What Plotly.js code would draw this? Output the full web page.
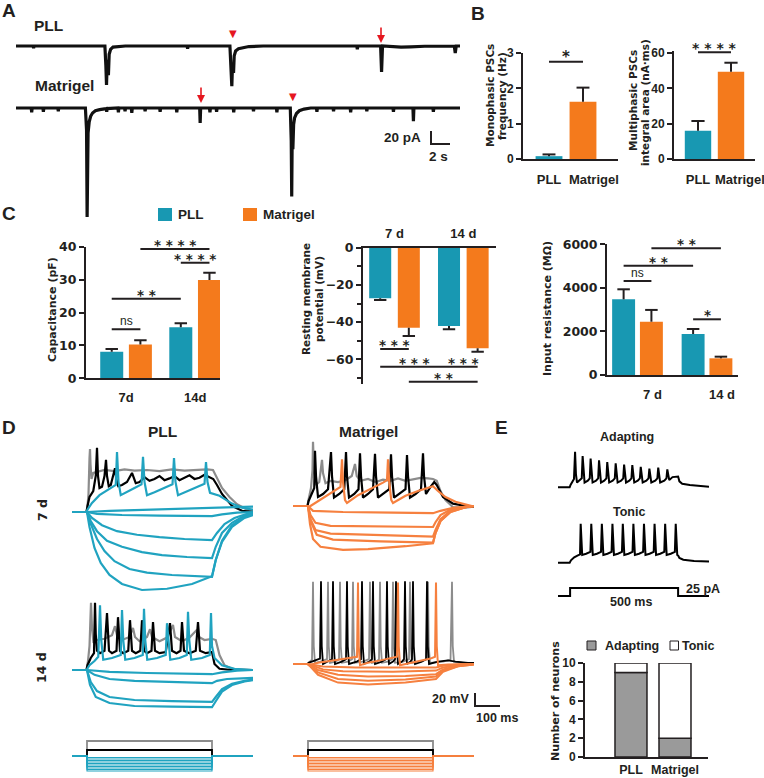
<!DOCTYPE html>
<html><head><meta charset="utf-8">
<script src="https://cdn.plot.ly/plotly-3.0.1.min.js"></script>
<style>html,body{margin:0;padding:0;background:#fff}#chart{width:764px;height:778px}</style>
</head><body><div id="chart"></div>
<script>
// ================= DATA =================
// Panel A: spontaneous PSC recordings (time s, current pA)
const aPllT = [0,1.8,1.85,1.9,5,8,9.35,9.45,9.52,9.6,9.72,9.8,9.95,10.2,10.6,11.5,15,18,18.05,18.1,22.5,22.62,22.7,22.78,22.88,22.95,23.1,23.4,23.8,24.5,26,30,34,35.85,35.9,35.95,38.35,38.45,38.55,39.5,40.5,41.5,43,46.1,46.2,46.3,46.7];
const aPllI = [0,0,-4,0,0,0,0,-35,-71,-25,-53,-15,-6,-2,-1,0,0,0,-5,0,0,-40,-73,-30,-49,-18,-9,-5,-3,-1,0,0,0,0,-6,0,0,-47,0,-1,-2,-1.5,-0.5,0,-13,0,0];
const aMatT = [0,1.6,1.65,1.7,2.83,2.88,2.93,4.4,4.45,4.5,7.3,7.42,7.48,7.52,7.58,7.7,7.85,8.05,8.35,8.8,9.3,9.49,9.54,9.59,10.72,10.77,10.82,11.42,11.47,11.52,12.13,12.18,12.23,13.53,13.58,13.63,15.11,15.16,15.21,16.86,16.91,16.96,19.32,19.37,19.42,20.35,20.4,20.45,21.05,21.1,21.15,22.85,22.9,22.95,24.93,24.98,25.03,27.39,27.44,27.49,28.85,28.95,29.0,29.05,29.12,29.2,29.3,29.5,29.8,30.3,31.0,31.6,31.65,31.7,33.35,33.4,33.45,35.15,35.2,35.25,36.85,36.9,36.95,39.65,39.7,39.75,41.75,41.8,41.85,43.85,43.9,43.95,46.7];
const aMatI = [0,0,-8,0,0,-7,0,0,-6,0,0,-40,-198,-90,-45,-25,-15,-9,-5,-3,-1,-1,-7,-1,0,-8,0,0,-6,0,0,-9,0,0,-6,0,0,-7,0,0,-8,0,0,-27,0,0,-8,0,0,-7,0,0,-8,0,0,-6,0,0,-8,0,0,-60,-161,-50,-75,-30,-18,-10,-5,-2,0,0,-7,0,0,-6,0,0,-8,0,0,-6,0,0,-7,0,0,-24,0,0,-7,0,0];

// Panel B
const bCats = ['PLL','Matrigel'];
const monoFreq = [0.08, 1.62];
const monoFreqErr = [0.05, 0.40];
const multiArea = [16.0, 49.4];
const multiAreaErr = [5.5, 5.1];
const monoSig = [[0,1,2.75,'*']];
const multiSig = [[0,1,60.4,'****']];

// Panel C
const cDays = ['7d','14d'];
const cDaysSp = ['7 d','14 d'];
const capPLL = [8.1, 15.5], capPLLErr = [0.8, 1.2];
const capMat = [10.3, 29.9], capMatErr = [1.3, 2.2];
const rmpPLL = [-27.2, -42.1], rmpPLLErr = [0.9, 1.8];
const rmpMat = [-43.0, -54.1], rmpMatErr = [4.5, 1.8];
const rinPLL = [3474, 1882], rinPLLErr = [460, 230];
const rinMat = [2447, 766], rinMatErr = [540, 75];
// [groupA, seriesA, groupB, seriesB, level, label]
const capSig = [[0,0,0,1,14.9,'ns'],[0,0,1,0,24.2,'**'],[0,1,1,1,39.3,'****'],[1,0,1,1,35.1,'****']];
const rmpSig = [[0,0,0,1,-54.5,'***'],[0,0,1,0,-64,'***'],[1,0,1,1,-64,'***'],[0,1,1,1,-72,'**']];
const rinSig = [[0,0,0,1,4315,'ns'],[0,0,1,0,5020,'**'],[0,1,1,1,5815,'**'],[1,0,1,1,2557,'*']];

// Panel D: membrane potential traces [time ms, mV]
const pll7Gray = [[0,-70],[58,-70],[62,-60],[66,-40],[70,20],[72,35],[74,10],[78,-15],[85,-5],[100,-3],[130,0],[170,-2],[210,1],[250,-1],[300,0],[350,-2],[400,1],[450,-1],[500,0],[540,1],[564,0],[575,-10],[600,-30],[630,-45],[660,-57],[700,-66],[724,-69]];
const pll7Black = [[0,-70],[58,-70],[62,-60],[70,-45],[85,-35],[95,-10],[100,37],[104,-10],[110,-30],[120,-28],[130,-10],[136,17],[140,-10],[147,-27],[155,-25],[165,-10],[172,3],[177,-15],[185,-27],[200,-25],[220,-20],[240,-5],[245,-12],[255,-22],[270,-20],[290,-12],[310,-18],[330,-15],[350,-10],[370,-17],[390,-14],[410,-10],[430,-17],[450,-13],[470,-9],[490,-15],[510,-13],[530,-8],[550,-12],[565,-15],[580,-25],[600,-40],[640,-60],[680,-68],[724,-70]];
const pll7Spk = [[0,-70],[58,-70],[62,-66],[80,-55],[110,-42],[150,-32],[175,-25],[180,30],[186,-20],[195,-42],[215,-38],[250,-30],[278,-24],[284,22],[290,-20],[300,-42],[330,-37],[370,-30],[402,-24],[408,20],[414,-20],[424,-42],[460,-36],[500,-28],[530,-23],[536,13],[542,-20],[552,-38],[565,-40],[590,-43],[640,-56],[680,-63],[724,-66]];
const pll7H0 = [[0,-70],[60,-70],[150,-68],[300,-66],[560,-63],[600,-62],[680,-61],[724,-61]];
const pll7H1 = [[0,-70],[60,-70],[100,-73],[200,-75],[350,-76],[560,-77],[600,-74],[660,-71],[724,-70]];
const pll7H2 = [[0,-70],[60,-70],[80,-80],[120,-92],[180,-102],[260,-108],[350,-112],[450,-115],[560,-117],[580,-105],[610,-90],[650,-80],[700,-73],[724,-72]];
const pll7H3 = [[0,-70],[60,-70],[75,-85],[100,-102],[140,-118],[200,-128],[280,-137],[360,-142],[460,-145],[560,-147],[575,-128],[600,-105],[640,-88],[690,-76],[724,-73]];
const pll7H4 = [[0,-70],[60,-70],[75,-90],[100,-115],[130,-135],[170,-152],[230,-165],[300,-171],[400,-175],[560,-178],[575,-150],[600,-120],[640,-95],[690,-80],[724,-75]];
const pll7H5 = [[0,-70],[60,-70],[70,-95],[90,-130],[115,-155],[150,-175],[200,-190],[280,-200],[380,-198],[480,-190],[560,-177],[575,-150],[600,-118],[640,-92],[690,-78],[724,-74]];

const mat7Gray = [[0,-70],[58,-70],[62,-60],[72,-40],[78,-10],[80,37],[84,-10],[92,-35],[105,-30],[112,-10],[116,7],[120,-15],[130,-32],[150,-28],[180,-30],[210,-27],[235,-20],[248,0],[255,-20],[270,-28],[300,-25],[330,-30],[360,-26],[390,-28],[420,-24],[450,-28],[480,-26],[510,-23],[540,-24],[560,-25],[575,-28],[590,-45],[610,-60],[640,-72],[680,-73],[724,-71]];
const mat7Black = [[0,-70],[58,-70],[62,-62],[75,-50],[85,-40],[88,22],[92,-20],[100,-55],[120,-50],[140,-42],[152,20],[156,-20],[164,-56],[185,-50],[205,-42],[212,20],[216,-20],[224,-56],[245,-50],[262,-42],[268,18],[272,-20],[280,-56],[300,-50],[320,-42],[328,17],[332,-20],[340,-56],[360,-50],[385,-42],[392,16],[396,-20],[404,-56],[425,-50],[450,-42],[456,15],[460,-20],[468,-56],[490,-50],[512,-42],[520,18],[524,-20],[532,-50],[550,-38],[565,-30],[575,-35],[600,-55],[640,-66],[690,-70],[724,-71]];
const mat7Spk = [[0,-70],[58,-70],[62,-72],[100,-62],[136,-52],[170,-43],[190,-38],[196,8],[200,-30],[208,-60],[216,-65],[260,-52],[320,-40],[360,-31],[376,-27],[380,8],[385,-30],[393,-60],[400,-65],[450,-53],[500,-45],[540,-40],[560,-37],[580,-45],[610,-55],[650,-63],[690,-68],[724,-71]];
const mat7H1 = [[0,-70],[60,-70],[80,-78],[200,-80],[400,-81],[560,-82],[590,-78],[640,-73],[724,-70]];
const mat7H2 = [[0,-70],[60,-70],[70,-85],[90,-98],[150,-103],[300,-104],[560,-105],[570,-97],[590,-85],[630,-76],[690,-71],[724,-70]];
const mat7H3 = [[0,-70],[60,-70],[70,-92],[90,-110],[150,-116],[350,-118],[560,-121],[570,-110],[590,-92],[630,-78],[690,-72],[724,-70]];
const mat7H4 = [[0,-70],[60,-70],[70,-95],[95,-118],[160,-126],[350,-129],[560,-131],[570,-115],[590,-95],[630,-80],[690,-72],[724,-70]];
const mat7H5 = [[0,-70],[60,-70],[68,-100],[80,-125],[110,-138],[200,-143],[300,-142],[450,-137],[560,-132],[570,-115],[590,-95],[630,-80],[690,-72],[724,-70]];

const pll14Gray = [[0,-70],[58,-70],[64,-55],[70,-30],[76,42],[80,0],[86,-25],[100,-20],[130,-18],[160,-12],[172,3],[180,-12],[200,-20],[230,-15],[244,0],[252,-15],[270,-22],[300,-15],[312,-2],[320,-15],[350,-22],[380,-16],[404,5],[412,-15],[440,-22],[470,-16],[500,-3],[508,-15],[530,-20],[560,-18],[575,-20],[590,-45],[610,-62],[640,-68],[724,-70]];
const pll14Black = [[0,-70],[58,-70],[62,-62],[75,-50],[88,-42],[92,42],[95,-10],[100,-38],[112,-42],[130,-38],[140,25],[143,-10],[148,-38],[160,-42],[178,-38],[184,18],[187,-10],[192,-38],[205,-42],[225,-38],[232,13],[235,-10],[240,-38],[255,-42],[273,-38],[280,13],[283,-10],[288,-38],[300,-42],[318,-38],[324,10],[327,-10],[332,-38],[350,-42],[375,-40],[392,8],[395,-10],[400,-38],[418,-42],[434,-38],[440,10],[443,-10],[448,-38],[470,-42],[495,-38],[504,10],[507,-10],[512,-38],[535,-42],[560,-40],[570,-60],[590,-68],[640,-70],[724,-70]];
const pll14Spk = [[0,-70],[58,-70],[70,-62],[90,-55],[105,-48],[112,38],[117,-20],[125,-53],[160,-50],[195,-45],[200,30],[205,-20],[213,-53],[250,-50],[283,-45],[288,32],[293,-20],[301,-53],[340,-50],[375,-45],[380,8],[385,-20],[393,-53],[430,-50],[459,-45],[464,27],[469,-20],[477,-53],[520,-50],[551,-45],[556,25],[560,-30],[570,-50],[600,-62],[650,-68],[724,-70]];
const pll14H1 = [[0,-70],[60,-70],[150,-73],[300,-75],[560,-77],[600,-74],[660,-71],[724,-70]];
const pll14H2 = [[0,-70],[60,-70],[90,-78],[150,-85],[250,-88],[400,-90],[560,-92],[580,-88],[620,-85],[680,-84],[724,-83]];
const pll14H3 = [[0,-70],[60,-70],[75,-90],[100,-105],[150,-115],[250,-120],[400,-122],[560,-123],[575,-115],[600,-102],[640,-93],[690,-88],[724,-86]];
const pll14H4 = [[0,-70],[60,-70],[72,-95],[95,-115],[150,-125],[250,-130],[400,-131],[560,-132],[575,-122],[600,-106],[640,-95],[690,-89],[724,-87]];

const mat14Gray = [[0,-70],[58,-70],[62,-68],[76,-63],[80,67],[83,-40],[88,-68],[110,-66],[136,-62],[140,67],[143,-40],[148,-68],[170,-66],[184,-62],[188,67],[191,-40],[196,-68],[220,-66],[236,-62],[240,67],[243,-40],[248,-68],[280,-66],[304,-62],[308,67],[311,-40],[316,-68],[335,-66],[344,-62],[348,67],[351,-40],[356,-68],[380,-66],[396,-62],[400,67],[403,-40],[408,-68],[440,-66],[464,-62],[468,67],[471,-40],[476,-68],[510,-66],[536,-62],[540,67],[543,-40],[548,-68],[570,-67],[600,-66],[630,-63],[636,67],[639,-40],[644,-66],[680,-68],[724,-69]];
const mat14Black = [[0,-70],[58,-70],[62,-68],[90,-64],[108,-61],[112,68],[115,-40],[120,-70],[140,-66],[156,-62],[160,68],[163,-40],[168,-70],[195,-66],[212,-62],[216,68],[219,-40],[224,-70],[255,-66],[272,-62],[276,68],[279,-40],[284,-70],[305,-66],[316,-62],[320,68],[323,-40],[328,-70],[355,-66],[372,-62],[376,68],[379,-40],[384,-70],[400,-66],[408,-62],[412,68],[415,-40],[420,-70],[436,-66],[444,-62],[448,68],[451,-40],[456,-70],[470,-66],[476,-62],[480,68],[483,-40],[488,-70],[515,-66],[532,-62],[536,68],[539,-40],[544,-70],[565,-68],[580,-66],[620,-64],[650,-66],[700,-68],[724,-68]];
const mat14Spk = [[0,-70],[58,-70],[62,-72],[100,-68],[160,-64],[220,-61],[256,-58],[260,66],[263,-40],[268,-72],[300,-68],[350,-64],[390,-61],[416,-58],[420,66],[423,-40],[428,-72],[470,-68],[520,-64],[550,-61],[568,-58],[572,66],[575,-40],[580,-72],[620,-71],[680,-70],[724,-70]];
const mat14H1 = [[0,-70],[60,-70],[120,-74],[250,-76],[572,-76],[600,-73],[660,-71],[724,-70]];
const mat14H2 = [[0,-70],[60,-70],[120,-79],[200,-82],[400,-83],[572,-81],[600,-76],[660,-72],[724,-70]];
const mat14H3 = [[0,-70],[60,-70],[100,-80],[180,-88],[300,-91],[450,-90],[572,-87],[600,-79],[660,-73],[724,-70]];
const mat14H4 = [[0,-70],[60,-70],[100,-84],[180,-95],[300,-98],[450,-96],[572,-91],[600,-81],[660,-74],[724,-71]];
const mat14H5 = [[0,-70],[60,-70],[100,-88],[180,-101],[300,-104],[450,-101],[572,-95],[600,-83],[660,-74],[724,-71]];

// current-step protocol (pA) and its time course (ms)
const protoCurrents = [50, 20, -5, -10, -15, -20, -25, -30, -35, -40, -45, -50];
const protoT = [0, 60, 60, 560, 560, 724];
const protoOn = [0, 0, 1, 1, 0, 0];

// Panel E
const adaptTrace = [[0,-70],[54,-70],[58,-66],[66,-60],[74,-56],[79,-11],[83,-48],[88,-62],[100,-59],[110,-55],[114,-18],[118,-48],[123,-62],[138,-59],[147,-55],[151,-22],[155,-48],[160,-62],[176,-59],[186,-55],[190,-25],[194,-48],[199,-62],[214,-59],[224,-55],[228,-28],[232,-48],[237,-62],[253,-59],[263,-55],[267,-30],[271,-48],[276,-62],[292,-59],[302,-55],[306,-32],[310,-48],[315,-62],[330,-59],[340,-55],[344,-33],[348,-48],[353,-62],[369,-59],[379,-55],[383,-36],[387,-48],[392,-62],[409,-59],[419,-55],[423,-39],[427,-48],[432,-62],[450,-59],[460,-55],[464,-37],[468,-48],[473,-62],[492,-59],[502,-55],[506,-40],[510,-48],[515,-58],[530,-53],[550,-52],[556,-52],[562,-60],[575,-64],[610,-66],[660,-68],[699,-69]];
const tonicTrace = [[0,-70],[54,-70],[60,-66],[75,-61],[90,-58],[102,-56],[105,-5],[108,-45],[112,-57],[130,-55],[150,-52],[154,-5],[157,-45],[161,-57],[180,-55],[199,-52],[203,-5],[206,-45],[210,-57],[229,-55],[248,-52],[252,-5],[255,-45],[259,-57],[277,-55],[296,-52],[300,-5],[303,-45],[307,-57],[326,-55],[345,-52],[349,-5],[352,-45],[356,-57],[375,-55],[394,-52],[398,-5],[401,-45],[405,-57],[424,-55],[443,-52],[447,-5],[450,-45],[454,-57],[473,-55],[492,-52],[496,-5],[499,-45],[503,-57],[522,-55],[541,-52],[545,-5],[548,-45],[552,-57],[556,-58],[562,-62],[580,-65],[630,-67],[699,-68]];
const eStepT = [0, 56, 56, 556, 556, 699];
const eStepI = [0, 0, 25, 25, 0, 0];
const eCats = ['PLL','Matrigel'];
const eAdapting = [9, 2];
const eTonic = [1, 8];

// ================= STYLE / LAYOUT =================
const W = 764, H = 778;
const ink = '#231f20', teal = '#1898b2', orange = '#f47a1c', tealT = '#20a3c0', orangeT = '#f6803f', grayT = '#8c8c8c', red = '#e5171f';
const FL = 'Liberation Sans, Arial, sans-serif', FD = 'DejaVu Sans, sans-serif';
const fnt = (size, fam, weight) => ({family: fam || FL, size: size, weight: weight || 'bold', color: ink});
const xd = (a, b) => [a / W, b / W];
const yd = (top, bot) => [1 - bot / H, 1 - top / H];

const layout = {width: W, height: H, margin: {l: 0, r: 0, t: 0, b: 0}, paper_bgcolor: '#fff', plot_bgcolor: 'rgba(0,0,0,0)',
  showlegend: false, barmode: 'overlay', font: {family: FL, size: 12, color: ink}, shapes: [], annotations: []};
const traces = [];
function setAx(n, xdom, ydom, xo, yo) {
  const s = n === 1 ? '' : String(n);
  layout['xaxis' + s] = Object.assign({domain: xdom, anchor: 'y' + s, fixedrange: true}, xo);
  layout['yaxis' + s] = Object.assign({domain: ydom, anchor: 'x' + s, fixedrange: true}, yo);
}
const hid = r => ({range: r, visible: false, showgrid: false, zeroline: false});
const tickNum = fnt(12.5, FD);
const tickTxt = fnt(13);
function barX(r, cats, extra) {
  return Object.assign({range: r, tickmode: 'array', tickvals: cats.map((_, i) => i), ticktext: cats, showline: true, linewidth: 2, linecolor: ink,
    ticks: '', tickangle: 0, showgrid: false, zeroline: false, tickfont: tickTxt, ticklabelstandoff: 5, ticklabeloverflow: 'allow'}, extra || {});
}
function barY(r, dtick, extra) {
  return Object.assign({range: r, dtick: dtick, tick0: 0, showline: true, linewidth: 2, linecolor: ink, ticks: 'outside', ticklen: 5, tickwidth: 2,
    tickcolor: ink, tickangle: 0, showgrid: false, zeroline: false, tickfont: tickNum}, extra || {});
}
const ax = n => (n === 1 ? '' : String(n));
function line(pts, n, color, w) {
  traces.push({type: 'scatter', mode: 'lines', x: pts.map(p => p[0]), y: pts.map(p => p[1]), xaxis: 'x' + ax(n), yaxis: 'y' + ax(n),
    line: {color: color, width: w}, hoverinfo: 'skip'});
}
function bars(vals, n, color, off, wid, extra) {
  traces.push(Object.assign({type: 'bar', x: vals.map((_, i) => i), y: vals, xaxis: 'x' + ax(n), yaxis: 'y' + ax(n),
    marker: {color: color, line: {width: 0}}, offset: off, width: wid, hoverinfo: 'skip', cliponaxis: false}, extra || {}));
}
function errs(vals, ev, n, off, wid, cap) {
  const xs = [], ys = [];
  vals.forEach((v, i) => {
    const c = i + off + wid / 2, e = v + (v < 0 ? -1 : 1) * ev[i];
    xs.push(c, c, null, c - cap, c + cap, null); ys.push(v, e, null, e, e, null);
  });
  traces.push({type: 'scatter', mode: 'lines', x: xs, y: ys, xaxis: 'x' + ax(n), yaxis: 'y' + ax(n), line: {color: ink, width: 2}, hoverinfo: 'skip', cliponaxis: false});
}
const starTxt = s => s.split('').join(' ');
function sig(list, n, offs, wid, starSize) {
  list.forEach(s => {
    const x0 = s[0] + offs[s[1]] + wid / 2, x1 = s[2] + offs[s[3]] + wid / 2;
    layout.shapes.push({type: 'line', xref: 'x' + ax(n), yref: 'y' + ax(n), x0: x0, x1: x1, y0: s[4], y1: s[4], line: {color: ink, width: 2}});
    const isNs = s[5] === 'ns';
    layout.annotations.push({xref: 'x' + ax(n), yref: 'y' + ax(n), x: (x0 + x1) / 2, y: s[4], showarrow: false, xanchor: 'center',
      yanchor: 'bottom', yshift: isNs ? -1 : -6, text: isNs ? 'ns' : starTxt(s[5]),
      font: isNs ? fnt(12, FL, 'normal') : fnt(starSize, FD)});
  });
}
function ann(text, x, y, font, o) {
  layout.annotations.push(Object.assign({xref: 'paper', yref: 'paper', x: x / W, y: 1 - y / H, text: text, showarrow: false,
    xanchor: 'center', yanchor: 'middle', font: font}, o || {}));
}
function pline(x0, y0, x1, y1, w, c) {
  layout.shapes.push({type: 'line', xref: 'paper', yref: 'paper', x0: x0 / W, y0: 1 - y0 / H, x1: x1 / W, y1: 1 - y1 / H, line: {color: c || ink, width: w || 2}});
}
function prect(x0, y0, x1, y1, fill, lw) {
  layout.shapes.push({type: 'rect', xref: 'paper', yref: 'paper', x0: x0 / W, y0: 1 - y0 / H, x1: x1 / W, y1: 1 - y1 / H,
    fillcolor: fill, line: {color: ink, width: lw || 0}});
}

// ---------- Panel A ----------
setAx(1, xd(16, 460), yd(18, 95), hid([0, 46.7]), hid([-89.1, 50.9]));
setAx(2, xd(16, 460), yd(88, 222), hid([0, 46.7]), hid([-207.3, 36.4]));
traces.push({type: 'scatter', mode: 'lines', x: aPllT, y: aPllI, xaxis: 'x', yaxis: 'y', line: {color: '#111', width: 3.2}, hoverinfo: 'skip'});
traces.push({type: 'scatter', mode: 'lines', x: aMatT, y: aMatI, xaxis: 'x2', yaxis: 'y2', line: {color: '#111', width: 3.2}, hoverinfo: 'skip'});
ann('A', 9, 11, fnt(19));
ann('PLL', 48, 25, fnt(15.5));
ann('Matrigel', 64, 86, fnt(15.5));
ann('20 pA', 423, 137, fnt(13.5), {xanchor: 'right'});
ann('2 s', 438, 157, fnt(13.5));
pline(431, 131, 431, 144.8); pline(430, 144, 450, 144);
ann('▼', 233, 33, {family: FD, size: 10, color: red});
ann('▼', 293, 97, {family: FD, size: 10, color: red});
layout.annotations.push({xref: 'paper', yref: 'paper', x: 381 / W, y: 1 - 43 / H, ax: 0, ay: -17, text: '', showarrow: true, arrowhead: 2, arrowsize: 1, arrowwidth: 1.6, arrowcolor: red});
layout.annotations.push({xref: 'paper', yref: 'paper', x: 201 / W, y: 1 - 103 / H, ax: 0, ay: -17, text: '', showarrow: true, arrowhead: 2, arrowsize: 1, arrowwidth: 1.6, arrowcolor: red});

// ---------- Panel B ----------
const smallTick = fnt(12);
const bW = 0.79;
setAx(3, xd(523, 618), yd(53, 159), barX([-0.765, 2.03], bCats, {tickvals: [0, 1.32], ticklabelstandoff: 7}), barY([0, 3], 1, {tickfont: smallTick}));
bars(monoFreq, 3, [teal, orange], -bW / 2, bW);
errs(monoFreq, monoFreqErr, 3, -bW / 2, bW, 0.19);
sig(monoSig.map(s => [s[0], 0, s[1], 0, s[2], s[3]]), 3, [-bW / 2], bW, 15);
const bW2 = 0.8;
setAx(4, xd(674, 755), yd(50.9, 159), barX([-0.727, 1.727], bCats, {tickvals: [0, 1.27], ticklabelstandoff: 7}), barY([0, 61.2], 20, {tickfont: smallTick}));
bars(multiArea, 4, [teal, orange], -bW2 / 2, bW2);
errs(multiArea, multiAreaErr, 4, -bW2 / 2, bW2, 0.2);
sig(multiSig.map(s => [s[0], 0, s[1], 0, s[2], s[3]]), 4, [-bW2 / 2], bW2, 14);
ann('B', 478, 14, fnt(19));
ann('Monophasic PSCs', 490, 96, fnt(10.5, FD), {textangle: -90});
ann('frequency (Hz)', 502, 96, fnt(10.5, FD), {textangle: -90});
ann('Multiphasic PSCs', 633, 101, fnt(10.5, FD), {textangle: -90});
ann('integral area (nA·ms)', 645, 103, fnt(10.5, FD), {textangle: -90});

// ---------- Panel C ----------
const cw1 = 0.333, co1 = [-0.374, 0.041];
setAx(5, xd(86, 220), yd(246.7, 378.3), barX([-0.58, 1.36], cDays, {ticklabelstandoff: 6}), barY([0, 40], 10));
bars(capPLL, 5, teal, co1[0], cw1); bars(capMat, 5, orange, co1[1], cw1);
errs(capPLL, capPLLErr, 5, co1[0], cw1, 0.09); errs(capMat, capMatErr, 5, co1[1], cw1, 0.09);
sig(capSig, 5, co1, cw1, 13.5);
ann('Capacitance (pF)', 52, 310, fnt(11, FD), {textangle: -90});

const cw2 = 0.32, co2 = [-0.368, 0.048];
setAx(6, xd(363, 496), yd(247.7, 383.5), barX([-0.458, 1.475], cDaysSp, {side: 'top', ticklabelstandoff: 3}),
  barY([-73, 0], 20, {minor: {dtick: 10, ticks: 'outside', ticklen: 4, tickwidth: 2, tickcolor: ink}}));
bars(rmpPLL, 6, teal, co2[0], cw2); bars(rmpMat, 6, orange, co2[1], cw2);
errs(rmpPLL, rmpPLLErr, 6, co2[0], cw2, 0.09); errs(rmpMat, rmpMatErr, 6, co2[1], cw2, 0.09);
sig(rmpSig, 6, co2, cw2, 13.5);
ann('Resting membrane', 306, 299, fnt(10.5, FD), {textangle: -90});
ann('potential (mV)', 319, 299, fnt(10.5, FD), {textangle: -90});

const cw3 = 0.33, co3 = [-0.365, 0.035];
setAx(7, xd(607, 738), yd(244.3, 375), barX([-0.439, 1.446], cDaysSp, {ticklabelstandoff: 6, ticklabelshift: 15}), barY([0, 6000], 2000));
bars(rinPLL, 7, teal, co3[0], cw3); bars(rinMat, 7, orange, co3[1], cw3);
errs(rinPLL, rinPLLErr, 7, co3[0], cw3, 0.09); errs(rinMat, rinMatErr, 7, co3[1], cw3, 0.09);
sig(rinSig, 7, co3, cw3, 13.5);
ann('Input resistance (MΩ)', 547, 309, fnt(11, FD), {textangle: -90});

ann('C', 9, 213, fnt(19));
prect(158, 208, 172, 221, teal, 0);
ann('PLL', 176, 214.5, fnt(13.5), {xanchor: 'left'});
prect(243, 208, 257, 221, orange, 0);
ann('Matrigel', 261, 214.5, fnt(13.5), {xanchor: 'left'});

// ---------- Panel D ----------
setAx(8, xd(72, 253), yd(438, 600), hid([0, 724]), hid([-216.7, 53.3]));
setAx(9, xd(293, 474), yd(434, 562), hid([0, 724]), hid([-163.3, 50]));
setAx(10, xd(72, 253), yd(596, 714), hid([0, 724]), hid([-143.3, 53.3]));
setAx(11, xd(293, 474), yd(574, 692), hid([0, 724]), hid([-116.7, 80]));
setAx(12, xd(72, 253), yd(734, 778), hid([0, 724]), hid([-73.3, 73.3]));
setAx(13, xd(293, 474), yd(734, 778), hid([0, 724]), hid([-73.3, 73.3]));
const dw = 2.2;
line(pll7Gray, 8, grayT, dw); line(pll7Black, 8, '#000', dw);
[pll7H0, pll7H1, pll7H2, pll7H3, pll7H4, pll7H5, pll7Spk].forEach(t => line(t, 8, tealT, dw));
line(mat7Gray, 9, grayT, dw); line(mat7Black, 9, '#000', dw);
[mat7H1, mat7H2, mat7H3, mat7H4, mat7H5, mat7Spk].forEach(t => line(t, 9, orangeT, dw));
line(pll14Gray, 10, grayT, dw); line(pll14Black, 10, '#000', dw);
[pll14H1, pll14H2, pll14H3, pll14H4, pll14Spk].forEach(t => line(t, 10, tealT, dw));
line(mat14Gray, 11, grayT, 1.8); line(mat14Black, 11, '#000', 1.8);
[mat14H1, mat14H2, mat14H3, mat14H4, mat14H5, mat14Spk].forEach(t => line(t, 11, orangeT, 2));
[[12, tealT], [13, orangeT]].forEach(pc => {
  protoCurrents.forEach(I => {
    const col = I === 50 ? grayT : (I === 20 ? '#000' : pc[1]);
    line(protoT.map((t, i) => [t, protoOn[i] * I]), pc[0], col, I > 0 ? 1.8 : 1.1);
  });
});
ann('D', 9, 427, fnt(19));
ann('PLL', 162, 431, fnt(15.5));
ann('Matrigel', 368, 431, fnt(15.5));
ann('7 d', 42, 510, fnt(12.5, FD), {textangle: -90});
ann('14 d', 41, 668, fnt(12.5, FD), {textangle: -90});
ann('20 mV', 471, 699, fnt(12.5), {xanchor: 'right'});
ann('100 ms', 497, 718, fnt(12.5));
pline(475, 693, 475, 706.8); pline(474, 706, 500, 706);

// ---------- Panel E ----------
setAx(14, xd(558, 709), yd(445, 492), hid([0, 699]), hid([-77.8, 0.5]));
setAx(15, xd(558, 709), yd(518, 568), hid([0, 699]), hid([-78.8, 4.5]));
setAx(16, xd(558, 709), yd(580, 600), hid([0, 699]), hid([-12.5, 50]));
line(adaptTrace, 14, '#000', 2);
line(tonicTrace, 15, '#000', 2);
traces.push({type: 'scatter', mode: 'lines', x: eStepT, y: eStepI, xaxis: 'x16', yaxis: 'y16', line: {color: '#000', width: 2}, hoverinfo: 'skip'});
const eW = 0.727;
setAx(17, xd(585, 708), yd(663, 757), barX([-1.045, 1.75], eCats, {ticklabelstandoff: 0, tickfont: fnt(12.5)}), barY([0, 10], 2, {tickfont: smallTick}));
bars(eAdapting, 17, '#9a9a9a', -eW / 2, eW, {marker: {color: '#9a9a9a', line: {color: ink, width: 1.5}}});
bars(eTonic, 17, '#ffffff', -eW / 2, eW, {base: eAdapting, marker: {color: '#ffffff', line: {color: ink, width: 1.5}}});
ann('E', 501, 427, fnt(19));
ann('Adapting', 627, 437, fnt(12.5));
ann('Tonic', 629, 512, fnt(12.5));
ann('25 pA', 684, 589, fnt(12.5), {xanchor: 'left'});
ann('500 ms', 631, 602, fnt(12.5));
ann('Number of neurons', 555, 701, fnt(11, FD), {textangle: -90});
prect(587, 641, 596, 650, '#9a9a9a', 1);
ann('Adapting', 603, 645.5, fnt(12.5), {xanchor: 'left'});
prect(670, 641, 678.5, 650, '#ffffff', 1);
ann('Tonic', 680, 645.5, fnt(12.5), {xanchor: 'left'});

Plotly.newPlot('chart', traces, layout, {staticPlot: true, displayModeBar: false});
</script></body></html>
